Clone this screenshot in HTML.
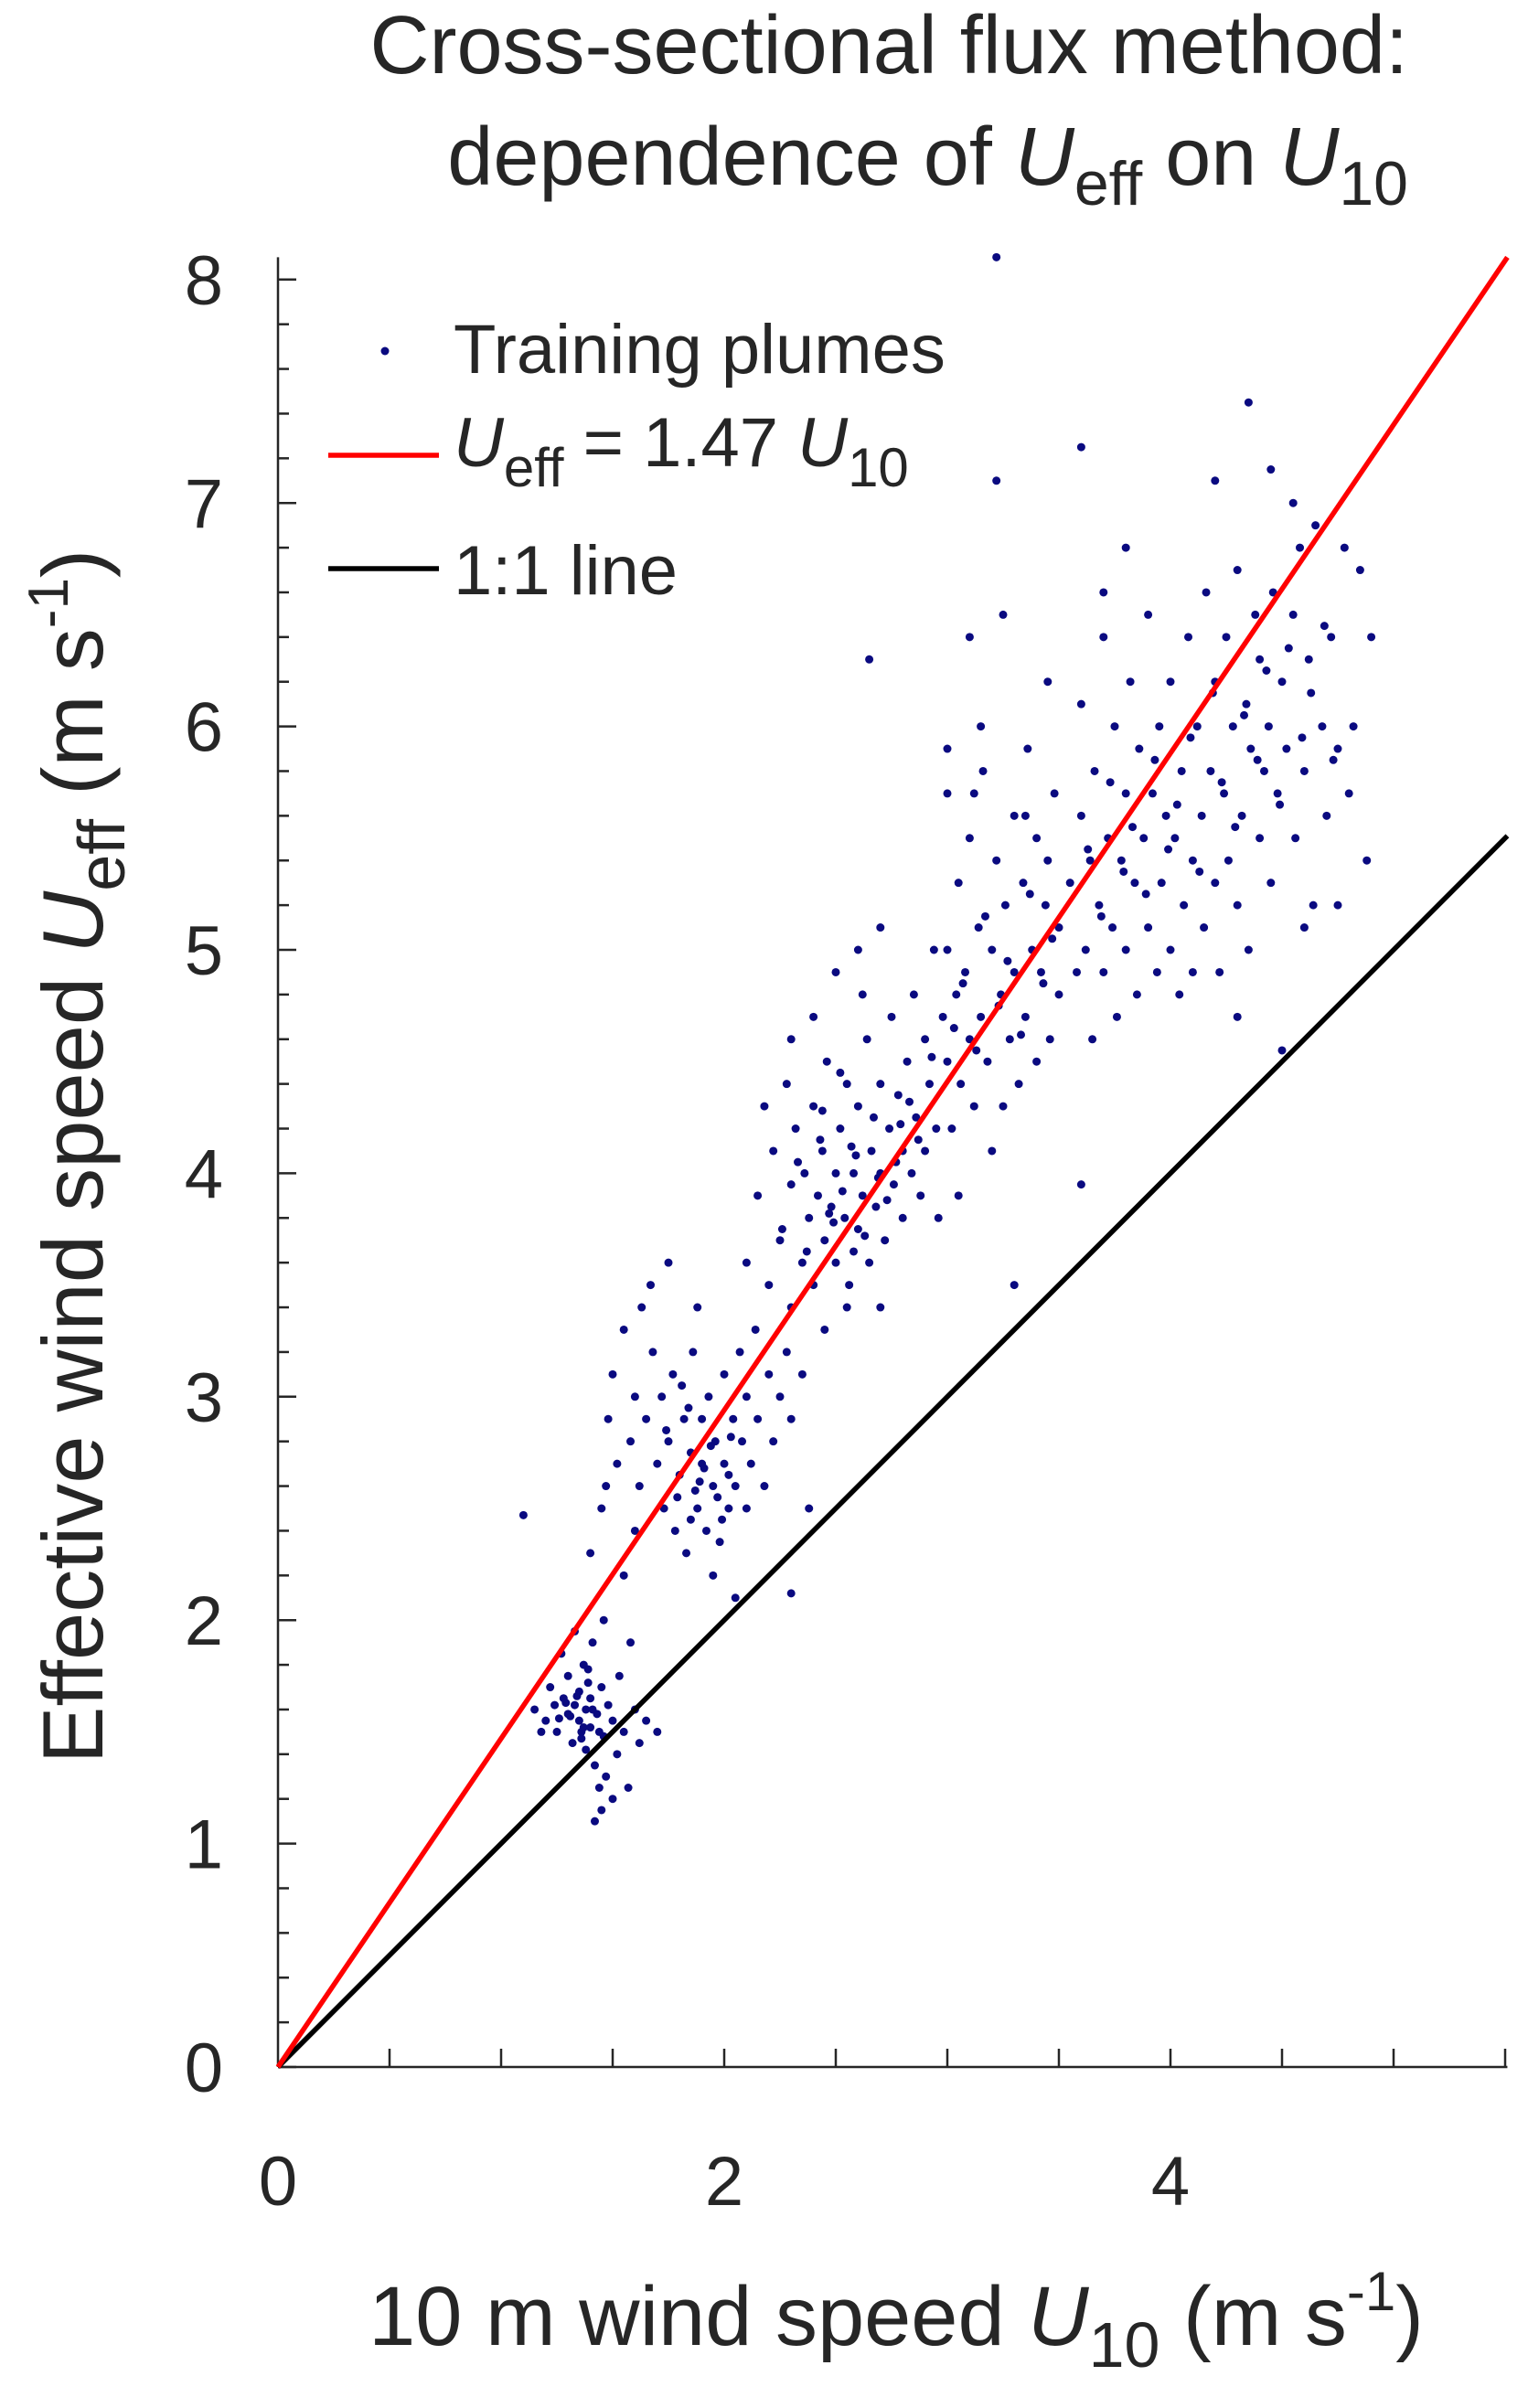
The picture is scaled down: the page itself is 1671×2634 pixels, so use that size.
<!DOCTYPE html>
<html><head><meta charset="utf-8"><style>
html,body{margin:0;padding:0;background:#fff;}
svg{display:block;font-family:"Liberation Sans",sans-serif;}
</style></head><body>
<svg id="chart" width="1671" height="2634" viewBox="0 0 1671 2634" xmlns="http://www.w3.org/2000/svg">
<g fill="#262626">
<text x="1540" y="80" font-size="90" text-anchor="end">Cross-sectional flux method:</text>
<text x="1540" y="202" font-size="90" text-anchor="end">dependence of <tspan font-style="italic">U</tspan><tspan font-size="68" dy="22">eff</tspan><tspan dy="-22"> on </tspan><tspan font-style="italic">U</tspan><tspan font-size="68" dy="22">10</tspan></text>
<text x="980" y="2565" font-size="92" text-anchor="middle">10 m wind speed <tspan font-style="italic">U</tspan><tspan font-size="70" dy="24">10</tspan><tspan dy="-24"> (m s</tspan><tspan font-size="60" dy="-38">-1</tspan><tspan dy="38">)</tspan></text>
<text transform="translate(112,1265) rotate(-90)" font-size="94" text-anchor="middle">Effective wind speed <tspan font-style="italic">U</tspan><tspan font-size="72" dy="24">eff</tspan><tspan dy="-24">  (m s</tspan><tspan font-size="62" dy="-38">-1</tspan><tspan dy="38">)</tspan></text>
</g>
<g id="axes"></g>
<g id="points"></g>
<g id="lines"></g>
<g fill="#262626" font-size="76">
<circle cx="421" cy="384" r="4.5" fill="#0a0a80"/>
<text x="496" y="408">Training plumes</text>
<line x1="359" y1="498" x2="480" y2="498" stroke="#f00" stroke-width="5.5"/>
<text x="496" y="510"><tspan font-style="italic">U</tspan><tspan font-size="60" dy="22">eff</tspan><tspan dy="-22"> = 1.47 </tspan><tspan font-style="italic">U</tspan><tspan font-size="60" dy="22">10</tspan></text>
<line x1="359" y1="622" x2="480" y2="622" stroke="#000" stroke-width="5.5"/>
<text x="496" y="650">1:1 line</text>
</g>
</svg>
<script>
const u10 = [1.15,1.2,1.22,1.25,1.28,1.3,1.3,1.32,1.33,1.35,1.35,1.36,1.37,1.38,1.38,1.4,1.4,1.41,1.42,1.43,1.44,1.45,1.45,1.46,1.47,1.48,1.5,1.5,1.52,1.53,1.55,1.57,1.6,1.62,1.65,1.27,1.33,1.18,1.24,1.42,1.46,1.58,1.7,
1.4,1.45,1.48,1.5,1.52,1.55,1.58,1.6,1.62,1.63,1.65,1.68,1.7,1.72,1.73,1.75,1.77,1.78,1.8,1.82,1.83,1.85,1.86,1.88,1.9,1.9,1.92,1.93,1.95,1.96,1.98,2.0,2.0,2.02,2.04,2.05,2.07,2.08,2.1,2.1,2.12,2.14,2.15,2.18,2.2,2.22,2.25,2.28,2.3,2.35,1.55,1.67,1.75,1.88,1.95,2.05,2.3,2.38,1.1,1.47,1.6,1.85,1.97,2.02,
2.1,2.15,2.18,2.2,2.22,2.25,2.28,2.3,2.3,2.32,2.35,2.36,2.38,2.4,2.4,2.42,2.44,2.45,2.46,2.48,2.5,2.5,2.52,2.54,2.55,2.56,2.58,2.6,2.6,2.62,2.64,2.65,2.66,2.68,2.7,2.7,2.72,2.74,2.75,2.76,2.78,2.8,2.8,2.82,2.84,2.85,2.86,2.88,2.9,2.9,2.92,2.94,2.95,2.96,2.98,2.3,2.4,2.5,2.6,2.7,2.55,2.7,2.45,2.62,2.52,2.58,
3.0,3.0,3.02,3.04,3.05,3.06,3.08,3.1,3.1,3.12,3.14,3.15,3.16,3.18,3.2,3.2,3.22,3.24,3.25,3.26,3.28,3.3,3.3,3.32,3.34,3.35,3.36,3.38,3.4,3.4,3.42,3.44,3.45,3.46,3.48,3.5,3.5,3.15,3.1,3.0,3.25,3.3,3.05,3.12,3.35,3.45,
3.55,3.58,3.6,3.6,3.62,3.64,3.65,3.66,3.68,3.7,3.7,3.72,3.74,3.75,3.76,3.78,3.8,3.8,3.82,3.84,3.85,3.86,3.88,3.9,3.9,3.92,3.94,3.95,3.96,3.98,4.0,4.0,4.02,4.04,4.05,4.06,4.08,4.1,4.1,4.12,4.14,4.15,4.16,4.18,4.2,4.2,4.22,4.24,4.25,4.26,4.28,4.3,4.3,4.32,4.34,4.35,4.36,4.38,4.4,4.4,4.42,4.44,4.45,4.46,4.48,4.5,4.5,4.52,4.55,4.56,4.58,4.6,4.62,4.64,4.65,4.68,4.7,4.72,4.75,4.78,4.8,4.82,4.85,4.88,4.9,4.75,4.6,4.3,4.2,4.35,4.45,4.55,3.6,3.8,3.22,3.22,2.65,3.6,3.0,3.7,
1.31,1.34,1.37,1.39,1.41,1.36,1.29,1.26,1.44,1.39,1.74,1.79,1.84,1.89,1.94,1.99,2.03,1.81,1.87,1.91,2.26,2.33,2.37,2.43,2.47,2.53,2.57,2.63,2.67,2.73,2.77,2.83,2.87,2.93,2.44,2.49,2.59,2.69,2.79,3.03,3.07,3.13,3.17,3.23,3.27,3.33,3.37,3.43,3.47,3.63,3.69,3.73,3.79,3.83,3.89,3.93,3.99,4.03,4.09,4.13,4.19,4.23,4.29,4.33,4.39,4.43,4.49,4.53,4.59,4.63,4.69,4.73];
const ueff = [1.6,1.55,1.7,1.5,1.65,1.58,1.75,1.45,1.62,1.55,1.68,1.5,1.8,1.6,1.42,1.65,1.52,1.9,1.35,1.58,1.25,1.7,1.15,1.48,1.3,1.62,1.2,1.55,1.4,1.75,1.5,1.25,1.6,1.45,1.55,1.85,1.95,1.5,1.62,1.1,2.0,1.9,1.5,
2.3,2.5,2.9,3.1,2.7,3.3,2.8,3.0,2.6,3.4,2.9,3.2,2.7,3.0,2.5,2.8,3.1,2.4,2.65,2.9,2.3,2.75,3.2,2.5,2.7,2.9,2.4,3.0,2.6,2.8,2.35,2.7,3.1,2.5,2.9,2.6,3.2,2.8,2.5,3.0,2.7,3.3,2.9,2.6,3.1,2.8,3.0,3.2,2.9,3.1,2.2,3.5,3.6,3.4,2.2,2.1,2.12,2.5,2.47,2.6,2.4,2.45,2.55,2.65,
3.6,3.9,4.3,3.5,4.1,3.7,4.4,3.4,3.95,4.2,3.6,4.0,3.8,4.3,3.5,3.9,4.1,3.7,4.5,3.85,4.0,3.6,4.2,3.8,4.4,3.5,4.0,3.75,4.3,3.9,4.6,3.6,4.1,3.85,4.4,4.0,3.7,4.2,4.7,3.95,4.35,4.1,3.8,4.5,4.0,4.8,4.25,3.9,4.6,4.1,4.4,5.0,4.2,3.8,4.7,4.6,4.7,4.9,5.0,5.1,3.4,3.4,3.3,4.8,4.45,3.65,
4.5,5.0,4.2,4.8,5.3,4.4,4.9,4.6,5.5,4.3,5.1,4.7,5.8,4.5,5.0,4.1,5.4,4.8,4.3,5.2,4.6,5.6,4.9,4.4,5.3,4.7,5.9,5.0,4.5,5.5,4.9,5.2,6.2,4.6,5.7,5.1,4.8,6.0,6.4,5.9,6.5,3.5,3.9,5.7,5.6,5.4,
5.3,4.9,5.6,6.1,5.0,5.4,4.6,5.8,5.2,6.4,4.9,5.5,5.1,6.0,4.7,5.4,5.7,5.0,6.2,5.3,4.8,5.9,5.5,5.1,6.5,5.7,4.9,6.0,5.3,5.6,5.0,6.2,5.5,4.8,5.8,5.2,6.4,5.4,4.9,6.0,5.6,5.1,6.6,5.8,5.3,6.2,4.9,5.7,6.4,5.4,6.0,5.2,6.7,5.6,6.1,5.0,5.9,6.5,5.5,6.3,5.8,6.0,5.3,6.6,5.7,6.2,4.55,5.9,6.5,5.5,6.8,5.8,6.3,5.2,6.9,6.0,5.6,6.4,5.9,6.8,5.7,6.0,6.7,5.4,6.4,5.2,5.1,4.7,7.1,7.45,7.15,7.0,7.25,6.8,8.1,7.1,6.3,3.95,5.7,6.6,
1.57,1.66,1.52,1.72,1.6,1.47,1.63,1.56,1.5,1.78,2.85,2.55,2.95,2.62,2.78,2.45,2.82,3.05,2.58,2.68,3.75,4.05,3.65,4.15,3.82,3.92,4.12,3.72,4.25,3.88,4.05,4.32,4.15,4.52,4.28,3.78,4.08,3.98,4.22,4.65,4.85,4.55,5.15,4.75,4.95,4.62,5.25,4.85,5.05,5.45,5.15,5.75,5.35,5.55,5.25,5.85,5.45,5.65,5.95,5.35,6.15,5.75,5.55,6.05,5.85,6.25,5.65,6.35,5.95,6.15,6.45,5.85];
const xTicks = [0,2,4];
const yTicks = [0,1,2,3,4,5,6,7,8];
const fitSlope = [1.47];
const oneSlope = [1];

const NS='http://www.w3.org/2000/svg';
const X0=304, Y0=2261, XS=244, YS=244.4, XMAX=5.51, YMAX=8.1;
const sx=v=>X0+v*XS, sy=v=>Y0-v*YS;
function mk(tag,attrs,parent){const e=document.createElementNS(NS,tag);for(const k in attrs)e.setAttribute(k,attrs[k]);parent.appendChild(e);return e;}
const axes=document.getElementById('axes');
let e=mk('line',{x1:X0,y1:Y0,x2:X0,y2:sy(YMAX),stroke:'#262626','stroke-width':2.5},axes);


e=mk('line',{x1:X0,y1:Y0,x2:sx(XMAX),y2:Y0,stroke:'#262626','stroke-width':2.5},axes);


for(let i=0;i<=40;i++){const v=i*0.2;if(v>YMAX)break;const major=i%5===0;
 e=mk('line',{x1:X0,y1:sy(v),x2:X0+(major?20:12),y2:sy(v),stroke:'#262626','stroke-width':2.5},axes);
 
 }
for(let i=1;i<=11;i++){const v=i*0.5;if(v>XMAX)break;
 e=mk('line',{x1:sx(v),y1:Y0,x2:sx(v),y2:Y0-20,stroke:'#262626','stroke-width':2.5},axes);
 
 }
yTicks.forEach(v=>{const t=mk('text',{x:X0-60,y:sy(v)+27,'font-size':76,'text-anchor':'end',fill:'#262626'},axes);t.textContent=v;
 
 });
xTicks.forEach(v=>{const t=mk('text',{x:sx(v),y:2412,'font-size':76,'text-anchor':'middle',fill:'#262626'},axes);t.textContent=v;
 
 });
const pts=document.getElementById('points');
u10.forEach((x,i)=>{const c=mk('circle',{cx:sx(x),cy:sy(ueff[i]),r:4.5,fill:'#0a0a80'},pts);
 
 });
const lines=document.getElementById('lines');
e=mk('line',{x1:sx(0),y1:sy(0),x2:sx(XMAX),y2:sy(oneSlope[0]*XMAX),stroke:'#000','stroke-width':5.5},lines);


const xe=Math.min(XMAX,YMAX/fitSlope[0]);
e=mk('line',{x1:sx(0),y1:sy(0),x2:sx(xe),y2:sy(fitSlope[0]*xe),stroke:'#f00','stroke-width':5.5},lines);


</script>
</body></html>
